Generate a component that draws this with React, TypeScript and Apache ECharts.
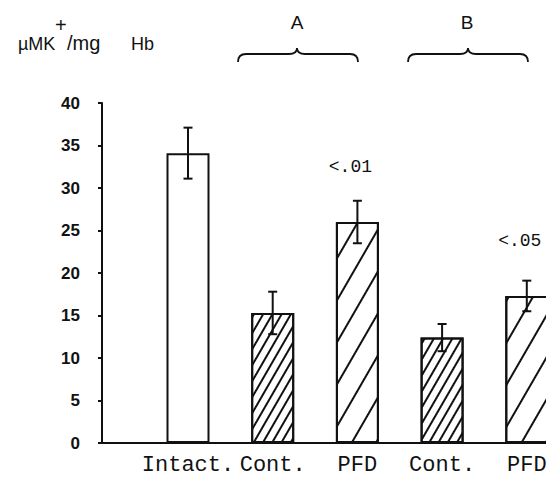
import React, { useEffect, useRef } from "react";
import * as echarts from "echarts";

// ---- data ----
const categories = ["Intact.", "Cont.", "PFD", "Cont.", "PFD"];
const means = [34.1, 15.3, 26.0, 12.4, 17.3];
const errors = [3.0, 2.5, 2.5, 1.6, 1.8];
const fillKinds = ["open", "dense", "sparse", "dense", "sparse"];
const pLabels = ["", "", "<.01", "", "<.05"];
const groupLabels = ["A", "B"];
const yMin = 0;
const yMax = 40;
const yStep = 5;

const INK = "#111";

echarts.graphic.registerShape(
  "braceA",
  echarts.graphic.extendPath(
    "M238,62 Q238,54 246,54 L289,54 Q297,54 297,48 Q297,54 305,54 L350,54 Q358,54 358,62",
    {}
  )
);
echarts.graphic.registerShape(
  "braceB",
  echarts.graphic.extendPath(
    "M408,62 Q408,54 416,54 L460,54 Q468,54 468,48 Q468,54 476,54 L520,54 Q528,54 528,62",
    {}
  )
);

function decalFor(kind: string): any {
  if (kind === "dense") {
    return {
      symbol: "rect",
      symbolSize: 1,
      symbolKeepAspect: false,
      color: INK,
      backgroundColor: "#fff",
      dashArrayX: [1, 0],
      dashArrayY: [1.6, 5.4],
      rotation: -Math.PI / 3,
    };
  }
  if (kind === "sparse") {
    return {
      symbol: "rect",
      symbolSize: 1,
      symbolKeepAspect: false,
      color: INK,
      backgroundColor: "#fff",
      dashArrayX: [1, 0],
      dashArrayY: [1.8, 18.2],
      rotation: -Math.PI / 3,
    };
  }
  return undefined;
}

const titleFont = { fontFamily: "Liberation Sans", fill: INK, textVerticalAlign: "bottom" as const };

export default function App() {
  const ref = useRef<HTMLDivElement>(null);

  useEffect(() => {
    document.body.style.margin = "0";
    const chart = echarts.init(ref.current!, null, { renderer: "svg" });

    const barData = means.map((v, i) => {
      const kind = fillKinds[i];
      const item: any = {
        value: v,
        itemStyle: {
          color: "#fff",
          borderColor: INK,
          borderWidth: 2,
        },
      };
      const d = decalFor(kind);
      if (d) item.itemStyle.decal = d;
      return item;
    });

    const errData = means.map((v, i) => [i, v - errors[i], v + errors[i]]);

    chart.setOption({
      animation: false,
      backgroundColor: "#fff",
      grid: {
        left: 145.65,
        top: 103,
        width: 423.5,
        bottom: 34,
        outerBoundsMode: "none",
        containLabel: false,
      },
      xAxis: {
        type: "category",
        data: categories,
        axisLine: { lineStyle: { color: INK, width: 2 } },
        axisTick: { show: false },
        axisLabel: {
          interval: 0,
          color: INK,
          fontFamily: "Liberation Mono",
          fontSize: 22,
          margin: 11,
          hideOverlap: false,
        },
      },
      yAxis: {
        type: "value",
        min: yMin,
        max: yMax,
        interval: yStep,
        offset: 43.65,
        axisLine: { show: true, lineStyle: { color: INK, width: 2 } },
        axisTick: { show: true, inside: false, length: 4, lineStyle: { color: INK, width: 2 } },
        splitLine: { show: false },
        axisLabel: {
          color: INK,
          fontFamily: "Liberation Sans",
          fontWeight: "bold",
          fontSize: 17,
          margin: 22,
        },
      },
      series: [
        {
          type: "bar",
          data: barData,
          barWidth: 43,
          label: {
            show: true,
            position: "top",
            distance: 46,
            offset: [-7, 0],
            formatter: (p: any) => pLabels[p.dataIndex],
            color: INK,
            fontFamily: "Liberation Mono",
            fontSize: 18,
          },
          z: 2,
        },
        {
          type: "custom",
          data: errData,
          z: 5,
          renderItem: (params: any, api: any) => {
            const idx = api.value(0);
            const lo = api.coord([idx, api.value(1)]);
            const hi = api.coord([idx, api.value(2)]);
            const cap = 4.5;
            const st = { stroke: INK, lineWidth: 2, fill: null };
            return {
              type: "group",
              children: [
                { type: "line", shape: { x1: hi[0], y1: hi[1], x2: lo[0], y2: lo[1] }, style: st },
                { type: "line", shape: { x1: hi[0] - cap, y1: hi[1], x2: hi[0] + cap, y2: hi[1] }, style: st },
                { type: "line", shape: { x1: lo[0] - cap, y1: lo[1], x2: lo[0] + cap, y2: lo[1] }, style: st },
              ],
            };
          },
        },
      ],
      graphic: [
        {
          type: "line",
          shape: { x1: 101, y1: 443, x2: 147, y2: 443 },
          style: { stroke: INK, lineWidth: 2 },
        },
        { type: "text", x: 18, y: 53, style: { ...titleFont, text: "µMK", fontSize: 18 } },
        { type: "text", x: 55, y: 35, style: { ...titleFont, text: "+", fontSize: 20 } },
        { type: "text", x: 67, y: 53, style: { ...titleFont, text: "/mg", fontSize: 20 } },
        { type: "text", x: 131, y: 53, style: { ...titleFont, text: "Hb", fontSize: 18 } },
        {
          type: "text",
          x: 297,
          y: 22,
          style: { text: groupLabels[0], fontFamily: "Liberation Sans", fontSize: 19, fill: INK, textAlign: "center", textVerticalAlign: "middle" },
        },
        {
          type: "text",
          x: 467,
          y: 22,
          style: { text: groupLabels[1], fontFamily: "Liberation Sans", fontSize: 19, fill: INK, textAlign: "center", textVerticalAlign: "middle" },
        },
        { type: "braceA", x: 0, y: 0, style: { stroke: INK, fill: null, lineWidth: 1.8 } },
        { type: "braceB", x: 0, y: 0, style: { stroke: INK, fill: null, lineWidth: 1.8 } },
      ],
    });

    return () => chart.dispose();
  }, []);

  return (
    <div
      ref={ref}
      style={{ position: "fixed", left: 0, top: 0, width: 546, height: 477 }}
    />
  );
}
